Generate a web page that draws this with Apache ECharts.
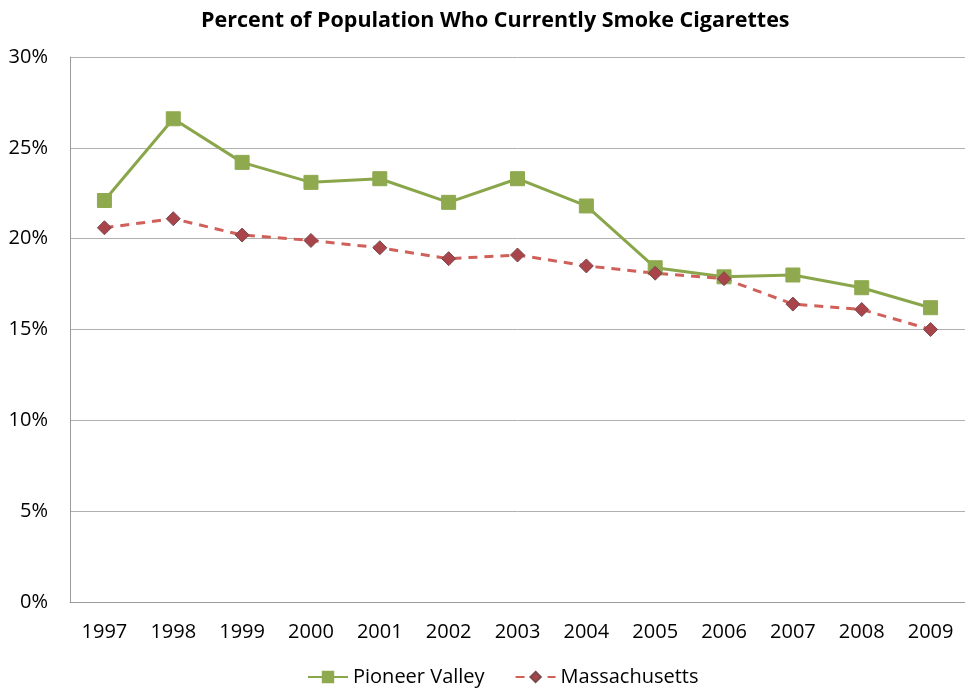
<!DOCTYPE html>
<html>
<head>
<meta charset="utf-8">
<script src="https://cdn.jsdelivr.net/npm/echarts@6/dist/echarts.min.js"></script>
<style>
  html, body { margin: 0; padding: 0; background: #fff; }
  #chart { width: 965px; height: 688px; }
</style>
</head>
<body>
<div id="chart"></div>
<script>
// Smoking prevalence, percent of adults
const years = ['1997','1998','1999','2000','2001','2002','2003','2004','2005','2006','2007','2008','2009'];
const pioneerValley = [22.1, 26.6, 24.2, 23.1, 23.3, 22.0, 23.3, 21.8, 18.4, 17.9, 18.0, 17.3, 16.2];
const massachusetts = [20.6, 21.1, 20.2, 19.9, 19.5, 18.9, 19.1, 18.5, 18.1, 17.8, 16.4, 16.1, 15.0];
const seriesNames = ['Pioneer Valley', 'Massachusetts'];

const font = '"Open Sans", "Liberation Sans", sans-serif';
const chart = echarts.init(document.getElementById('chart'));

chart.setOption({
  backgroundColor: '#ffffff',
  animation: false,
  title: {
    text: 'Percent of Population Who Currently Smoke Cigarettes',
    left: 196,
    top: 5,
    textStyle: { fontFamily: font, fontSize: 21.5, fontWeight: 'bold', color: '#000' }
  },
  legend: {
    bottom: -4,
    left: 302,
    itemGap: 30,
    itemWidth: 40,
    itemHeight: 13,
    textStyle: { fontFamily: font, fontSize: 20, color: '#000' },
    data: seriesNames
  },
  grid: { left: 70, right: -6, top: 57, bottom: 86 },
  xAxis: {
    type: 'category',
    data: years,
    boundaryGap: true,
    axisLine: { lineStyle: { color: '#9a9a9a', width: 1 } },
    axisTick: { show: false },
    axisLabel: { fontFamily: font, fontSize: 20, color: '#000', margin: 20 }
  },
  yAxis: {
    type: 'value',
    min: 0,
    max: 30,
    interval: 5,
    axisLine: { show: true, lineStyle: { color: '#9a9a9a', width: 1 } },
    axisTick: { show: false },
    splitLine: { lineStyle: { color: '#b0b0b0', width: 1 } },
    axisLabel: { fontFamily: font, fontSize: 20, color: '#000', margin: 22, formatter: '{value}%' }
  },
  series: [
    {
      name: seriesNames[0],
      type: 'line',
      data: pioneerValley,
      symbol: 'rect',
      symbolSize: 14,
      lineStyle: { color: '#8aa64a', width: 3 },
      itemStyle: { color: '#8fa94f', borderColor: '#8fa94f', borderWidth: 1 }
    },
    {
      name: seriesNames[1],
      type: 'line',
      data: massachusetts,
      symbol: 'diamond',
      symbolSize: 14,
      lineStyle: { color: '#d0605a', width: 3, type: [9, 7] },
      itemStyle: { color: '#a8444a', borderColor: '#7a4a4e', borderWidth: 1 }
    }
  ]
});
</script>
</body>
</html>
